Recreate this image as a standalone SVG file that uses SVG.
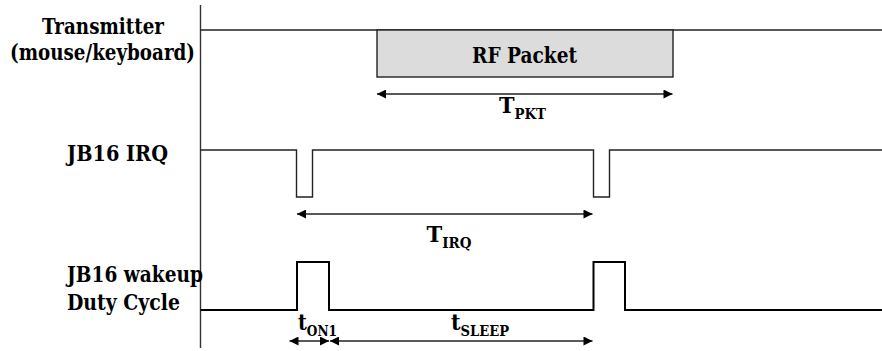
<svg xmlns="http://www.w3.org/2000/svg" width="882" height="351" viewBox="0 0 882 351">
<defs>
<style>
.lbl{font-family:"DejaVu Serif","Liberation Serif",serif;font-weight:bold;font-size:22px;fill:#000}
.sub{font-size:14px}
.sig{fill:none;stroke:#222;stroke-width:1.4}
.wk{fill:none;stroke:#000;stroke-width:2}
.dim{fill:none;stroke:#222;stroke-width:1.4}
</style>
<marker id="ah" viewBox="0 0 10 10" refX="10" refY="5" markerWidth="10" markerHeight="9" markerUnits="userSpaceOnUse" orient="auto-start-reverse">
<path d="M0,0 L10,5 L0,10 Z" fill="#000"/>
</marker>
</defs>
<rect width="882" height="351" fill="#fff"/>
<g id="axis">
<line x1="200.5" y1="5" x2="200.5" y2="348" stroke="#333" stroke-width="1.4"/>
</g>
<g id="transmitter">
<text class="lbl" x="103" y="34" text-anchor="middle" textLength="122" lengthAdjust="spacingAndGlyphs">Transmitter</text>
<text class="lbl" x="102.5" y="60" text-anchor="middle" textLength="185" lengthAdjust="spacingAndGlyphs">(mouse/keyboard)</text>
<polyline class="sig" points="200.5,30 882,30"/>
</g>
<g id="rf-packet">
<rect x="377" y="30" width="296" height="47" fill="#dcdcdc" stroke="#222" stroke-width="1.4"/>
<text class="lbl" x="524.5" y="63" text-anchor="middle" textLength="105" lengthAdjust="spacingAndGlyphs">RF Packet</text>
</g>
<g id="jb16-irq">
<text class="lbl" x="67" y="161" textLength="101" lengthAdjust="spacingAndGlyphs">JB16 IRQ</text>
<polyline class="sig" points="200.5,150 296.5,150 296.5,197 312.5,197 312.5,150 593.5,150 593.5,197 609.5,197 609.5,150 882,150"/>
</g>
<g id="jb16-wakeup">
<text class="lbl" x="67" y="282" textLength="136" lengthAdjust="spacingAndGlyphs">JB16 wakeup</text>
<text class="lbl" x="67" y="310" textLength="113" lengthAdjust="spacingAndGlyphs">Duty Cycle</text>
<polyline class="wk" points="200.5,310 297,310 297,262 329,262 329,310 593.5,310 593.5,262 625,262 625,310 882,310"/>
</g>
<g id="connectors">
<line class="dim" x1="377" y1="94" x2="672.5" y2="94" marker-start="url(#ah)" marker-end="url(#ah)"/>
<line class="dim" x1="297" y1="214" x2="592.5" y2="214" marker-start="url(#ah)" marker-end="url(#ah)"/>
<line class="dim" x1="289.5" y1="341" x2="329" y2="341" marker-start="url(#ah)" marker-end="url(#ah)"/>
<line class="dim" x1="330" y1="341" x2="592.5" y2="341" marker-start="url(#ah)" marker-end="url(#ah)"/>
</g>
<g id="labels">
<text class="lbl" x="499" y="113" textLength="47" lengthAdjust="spacingAndGlyphs">T<tspan class="sub" dy="6">PKT</tspan></text>
<text class="lbl" x="426.5" y="242" textLength="45" lengthAdjust="spacingAndGlyphs">T<tspan class="sub" dy="6">IRQ</tspan></text>
<text class="lbl" x="298" y="330" textLength="39" lengthAdjust="spacingAndGlyphs">t<tspan class="sub" dy="6">ON1</tspan></text>
<text class="lbl" x="451" y="330" textLength="58" lengthAdjust="spacingAndGlyphs">t<tspan class="sub" dy="5.5">SLEEP</tspan></text>
</g>
</svg>
